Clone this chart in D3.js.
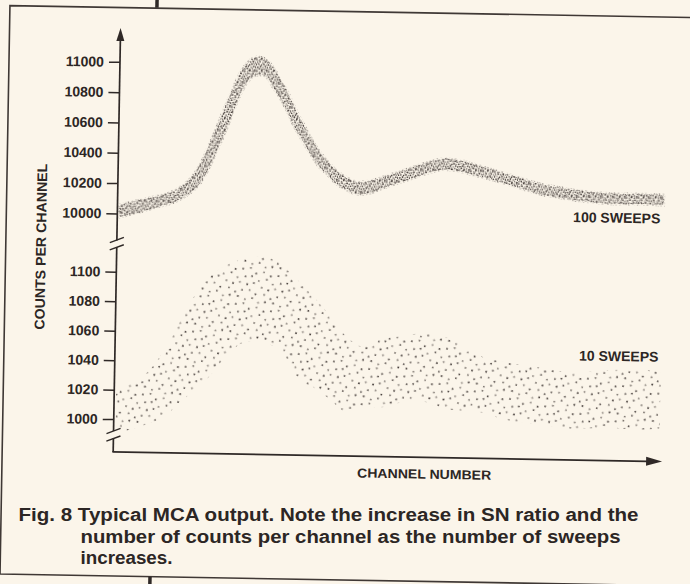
<!DOCTYPE html>
<html>
<head>
<meta charset="utf-8">
<script src="https://cdn.jsdelivr.net/npm/d3@7/dist/d3.min.js"></script>
<style>
  html, body { margin: 0; padding: 0; background: #fbf5ea; }
  svg { display: block; }
  text { font-family: "Liberation Sans", Arial, Helvetica, sans-serif; font-weight: bold; fill: #2c2624; }
</style>
</head>
<body>
<svg id="chart" width="690" height="584"></svg>
<script>
// ---- 100 sweeps: stippled trace, lower and upper edge per channel ----
const upperChannels = [0, 38, 74, 102, 129, 147, 165, 182, 200, 218, 235, 250, 265, 278, 291, 305, 316, 329, 342, 354, 367, 380, 395, 414, 436, 460, 487, 515, 542, 569, 597, 625, 652, 680, 711, 741, 772, 803, 833, 864, 896, 929, 957, 1000];
const upperLow  = [9976, 10011, 10051, 10083, 10143, 10207, 10323, 10463, 10622, 10795, 10898, 10930, 10920, 10854, 10783, 10698, 10613, 10532, 10457, 10388, 10326, 10287, 10229, 10187, 10155, 10163, 10202, 10237, 10271, 10306, 10327, 10316, 10292, 10270, 10239, 10208, 10177, 10159, 10141, 10130, 10122, 10121, 10122, 10118];
const upperHigh = [10056, 10091, 10123, 10159, 10235, 10333, 10481, 10635, 10794, 10941, 11024, 11048, 11032, 10980, 10909, 10824, 10739, 10650, 10569, 10494, 10426, 10373, 10315, 10267, 10235, 10243, 10274, 10309, 10343, 10378, 10399, 10388, 10364, 10336, 10305, 10274, 10243, 10225, 10207, 10196, 10188, 10187, 10188, 10184];

// ---- 10 sweeps: scattered counts, top and bottom edge of the cloud ----
const lowerTopChannels = [0, 56, 97, 133, 174, 218, 265, 297, 329, 353, 385, 415, 452, 483, 525, 562, 599, 630, 655, 717, 778, 839, 901, 962, 1000];
const lowerTopValues   = [1019, 1032, 1054, 1080, 1100, 1109, 1112, 1108, 1097, 1088, 1075, 1061, 1052, 1057, 1060, 1062, 1060, 1056, 1049, 1043, 1040, 1037, 1039, 1040, 1038];
const lowerBottomChannels = [0, 26, 87, 123, 166, 208, 239, 300, 332, 362, 393, 425, 454, 485, 516, 553, 590, 627, 656, 719, 780, 841, 904, 964, 1000];
const lowerBottomValues   = [991, 993, 1002, 1014, 1028, 1047, 1054, 1049, 1029, 1024, 1016, 1007, 1011, 1011, 1014, 1017, 1012, 1010, 1010, 1004, 1001, 999, 1000, 999, 1000];

// ---- axis ticks and texts ----
const upperTicks = [10000, 10200, 10400, 10600, 10800, 11000];
const lowerTicks = [1000, 1020, 1040, 1060, 1080, 1100];
const seriesLabels = ["100 SWEEPS", "10 SWEEPS"];
const yTitle = "COUNTS PER CHANNEL";
const xTitle = "CHANNEL NUMBER";
const captionLines = [
  "Fig. 8 Typical MCA output. Note the increase in SN ratio and the",
  "number of counts per channel as the number of sweeps",
  "increases."
];

// ---- stipple textures (dot offsets inside a pattern tile) ----
const denseDotsA = [
  [0.9,1.0,1],[3.6,1.7,.6],[5.8,0.6,1],[8.5,1.4,.5],[10.9,0.9,.9],
  [1.6,3.9,.6],[4.1,3.2,1],[6.9,4.0,.5],[9.2,3.4,1],[11.5,4.2,.6],
  [0.5,6.3,1],[3.0,5.7,.5],[5.6,6.6,.9],[8.0,5.9,1],[10.4,6.5,.5],
  [1.9,8.7,.9],[4.4,8.1,1],[7.1,9.0,.6],[9.6,8.3,.9],[11.7,9.1,1],
  [0.8,11.0,.5],[3.3,10.4,.9],[6.0,11.3,1],[8.6,10.7,.6],[10.9,11.5,.9]
];
const denseDotsB = [
  [1.2,1.5],[4.8,0.7],[7.6,2.2],[2.9,4.1],[6.1,5.0],[8.4,6.3],[0.6,7.4],[3.9,7.8],[6.8,8.4]
];
const sparseDots = [
  [2.0,3.1],[9.4,0.8],[15.7,5.2],[23.1,2.4],[30.6,4.9],
  [5.8,10.3],[12.2,8.6],[19.8,11.9],[27.4,9.1],[34.2,12.6],
  [1.5,16.8],[9.1,17.5],[15.4,15.0],[24.0,17.9],[31.0,19.3],
  [5.2,24.1],[12.7,22.8],[19.3,25.6],[27.9,24.4],[34.8,27.2],
  [2.4,30.9],[9.9,32.6],[16.8,30.1],[23.6,33.4],[30.2,31.5]
];
const sparseShade = [1, .7, .9, .6, 1, .8, 1, .6, .9, .7, .6, 1, .8, .7, 1, .9, .6, 1, .7, .8, 1, .7, .9, .6, 1];

const ink = "#2f2927";
const svg = d3.select("#chart");
const defs = svg.append("defs");

const patA = defs.append("pattern").attr("id", "stippleA")
  .attr("patternUnits", "userSpaceOnUse").attr("width", 12).attr("height", 12);
patA.selectAll("circle").data(denseDotsA).join("circle")
  .attr("cx", d => d[0]).attr("cy", d => d[1]).attr("r", 0.78)
  .attr("fill", "#342c29").attr("fill-opacity", d => d[2]);

const patB = defs.append("pattern").attr("id", "stippleB")
  .attr("patternUnits", "userSpaceOnUse").attr("width", 9).attr("height", 9)
  .attr("patternTransform", "rotate(37)");
patB.selectAll("circle").data(denseDotsB).join("circle")
  .attr("cx", d => d[0]).attr("cy", d => d[1]).attr("r", 0.65)
  .attr("fill", "#342c29").attr("fill-opacity", 0.6);

const patC = defs.append("pattern").attr("id", "stippleSparse")
  .attr("patternUnits", "userSpaceOnUse").attr("width", 36).attr("height", 36)
  .attr("patternTransform", "rotate(11)");
patC.selectAll("circle").data(sparseDots).join("circle")
  .attr("cx", d => d[0]).attr("cy", d => d[1]).attr("r", 0.95)
  .attr("fill", "#3f3734").attr("fill-opacity", (d, i) => sparseShade[i]);

// the figure sits slightly tilted on the page
const g = svg.append("g").attr("transform", "rotate(1,345,292)");

// frame around the figure and column rules
g.append("path").attr("d", "M700,11.5 H5 V580 H700")
  .attr("fill", "none").attr("stroke", "#3f3835").attr("stroke-width", 1.6);
g.append("line").attr("x1", 152).attr("x2", 152).attr("y1", -12).attr("y2", 11)
  .attr("stroke", "#2f2927").attr("stroke-width", 3.5);
g.append("line").attr("x1", 155).attr("x2", 155).attr("y1", 580).attr("y2", 596)
  .attr("stroke", "#2f2927").attr("stroke-width", 3.5);

// scales
const x = d3.scaleLinear().domain([0, 1000]).range([118, 662]);
const yUp = d3.scaleLinear().domain([10000, 11000]).range([217.4, 65.8]);
const yLo = d3.scaleLinear().domain([1000, 1100]).range([423.1, 275.8]);
const axisX = 116, baseY = 456;

// 100-sweep trace
const upperArea = d3.area()
  .x((d, i) => x(upperChannels[i]))
  .y0((d, i) => yUp(upperLow[i]))
  .y1((d, i) => yUp(upperHigh[i]))
  .curve(d3.curveCatmullRom.alpha(0.5));
const upperPath = upperArea(upperChannels);
g.append("path").attr("d", upperPath).attr("fill", "url(#stippleA)")
  .attr("stroke", "url(#stippleB)").attr("stroke-width", 3);
g.append("path").attr("d", upperPath).attr("fill", "url(#stippleB)");

// 10-sweep cloud
const edgeLine = d3.line().curve(d3.curveCatmullRom.alpha(0.5));
const topPts = lowerTopChannels.map((c, i) => [x(c), yLo(lowerTopValues[i])]);
const botPts = lowerBottomChannels.map((c, i) => [x(c), yLo(lowerBottomValues[i])]).reverse();
const lowerPath = edgeLine(topPts) + "L" + edgeLine(botPts).slice(1) + "Z";
g.append("path").attr("d", lowerPath).attr("fill", "url(#stippleSparse)");

// y axes (two broken segments)
function tickAxis(scale, ticks) {
  const a = g.append("g").attr("transform", `translate(${axisX},0)`)
    .call(d3.axisLeft(scale).tickValues(ticks).tickSize(11).tickPadding(5).tickFormat(d3.format("d")));
  a.select(".domain").remove();
  a.selectAll(".tick line").attr("stroke", ink).attr("stroke-width", 1.5);
  a.selectAll(".tick text").attr("fill", "#2c2624")
    .style("font-size", "14px").style("font-family", '"Liberation Sans", Arial, sans-serif')
    .style("font-weight", "bold");
}
tickAxis(yUp, upperTicks);
tickAxis(yLo, lowerTicks);

function seg(x1, y1, x2, y2, w) {
  g.append("line").attr("x1", x1).attr("y1", y1).attr("x2", x2).attr("y2", y2)
    .attr("stroke", ink).attr("stroke-width", w || 1.7);
}
seg(axisX, 40, axisX, 244.5);
seg(axisX, 251, axisX, 435);
seg(axisX, 442, axisX, baseY);
seg(axisX - 0.8, baseY, 650, baseY);
// break marks
[[244, 251.3], [435, 442.6]].forEach(pair => pair.forEach(cy =>
  seg(axisX - 7, cy + 2.7, axisX + 7, cy - 2.7, 1.4)));
// arrow heads
g.append("path").attr("d", `M${axisX},32 L${axisX - 4},45 L${axisX + 4},45 Z`).attr("fill", ink);
g.append("path").attr("d", `M665,${baseY} L649,${baseY - 4.5} L649,${baseY + 4.5} Z`).attr("fill", ink);

// series labels
g.append("text").attr("x", 659).attr("y", 218).attr("text-anchor", "end")
  .style("font-size", "14px").text(seriesLabels[0]);
g.append("text").attr("x", 659.5).attr("y", 356.3).attr("text-anchor", "end")
  .style("font-size", "14px").text(seriesLabels[1]);

// axis titles
g.append("text").attr("transform", "translate(45,252) rotate(-90)")
  .attr("text-anchor", "middle").style("font-size", "14px")
  .attr("textLength", 166).attr("lengthAdjust", "spacingAndGlyphs").text(yTitle);
g.append("text").attr("x", 427.3).attr("y", 477.2).attr("text-anchor", "middle")
  .style("font-size", "13px").attr("textLength", 134).attr("lengthAdjust", "spacingAndGlyphs")
  .text(xTitle);

// caption, set level below the figure
const capPos = [[18.5, 521, 620], [80.5, 542.5, 540], [80.5, 563.5, 92]];
captionLines.forEach((t, i) => {
  svg.append("text").attr("x", capPos[i][0]).attr("y", capPos[i][1])
    .style("font-size", "18px").attr("textLength", capPos[i][2])
    .attr("lengthAdjust", "spacingAndGlyphs").text(t);
});
</script>
</body>
</html>
